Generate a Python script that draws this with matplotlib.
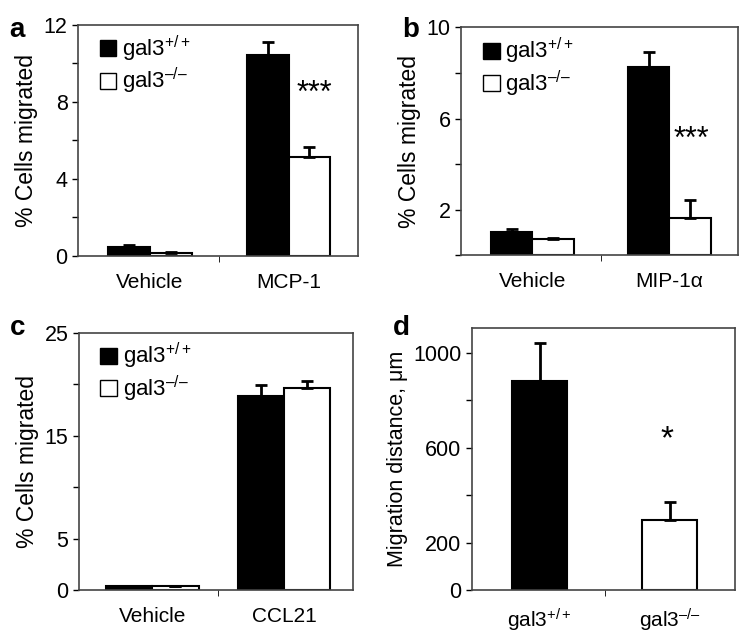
import numpy as np
import matplotlib.pyplot as plt
from matplotlib.patches import Patch

plt.rcParams['font.family'] = ['Liberation Sans', 'DejaVu Sans']
plt.rcParams['mathtext.fontset'] = 'custom'
plt.rcParams['mathtext.rm'] = 'Liberation Sans'
plt.rcParams['mathtext.it'] = 'Liberation Sans'

lab_wt = r"gal3$^{+/+}$"
lab_ko = "gal3$^{\u2013/\u2013}$"

# panel a
a_groups = ["Vehicle", "MCP-1"]
a_wt = [0.45, 10.45]
a_wt_err = [0.09, 0.65]
a_ko = [0.17, 5.13]
a_ko_err = [0.05, 0.55]

# panel b
b_groups = ["Vehicle", "MIP-1\u03b1"]
b_wt = [1.03, 8.26]
b_wt_err = [0.11, 0.64]
b_ko = [0.72, 1.62]
b_ko_err = [0.03, 0.81]

# panel c
c_groups = ["Vehicle", "CCL21"]
c_wt = [0.39, 18.9]
c_wt_err = [0.0, 1.0]
c_ko = [0.39, 19.65]
c_ko_err = [0.0, 0.65]

# panel d
d_groups = [lab_wt, lab_ko]
d_vals = [880, 296]
d_err = [162, 77]

fig = plt.figure(figsize=(7.5, 6.38), dpi=100)
fs = 15
ekw = dict(ecolor='black', elinewidth=2, capsize=4, capthick=2)


def style(ax):
    for s in ax.spines.values():
        s.set_color('#444444')
        s.set_linewidth(1.2)
    ax.tick_params(axis='y', direction='out', length=4, labelsize=fs + 0.5, width=1)
    ax.set_xticks([0.5], minor=True)
    ax.tick_params(axis='x', which='minor', length=4, direction='out')
    ax.tick_params(axis='x', which='major', length=0, labelsize=fs, pad=12)


def grouped(ax, groups, wt, wt_err, ko, ko_err, w=0.3):
    x = np.arange(len(groups))
    ax.bar(x - w / 2, wt, w, color='black', edgecolor='black', linewidth=1.5,
           yerr=[np.zeros(len(wt)), wt_err], error_kw=ekw)
    ax.bar(x + w / 2, ko, w, color='white', edgecolor='black', linewidth=1.5,
           yerr=[np.zeros(len(ko)), ko_err], error_kw=ekw)
    ax.set_xticks(x)
    ax.set_xticklabels(groups)
    ax.set_xlim(-0.52, 1.5)
    h = [Patch(facecolor='black', edgecolor='black'),
         Patch(facecolor='white', edgecolor='black')]
    ax.legend(h, [lab_wt, lab_ko], loc='upper left', frameon=False, fontsize=fs + 1,
              handlelength=0.75, handleheight=0.75, handletextpad=0.25,
              labelspacing=0.1, borderaxespad=0.2, bbox_to_anchor=(0.03, 1.02))
    style(ax)


ax = fig.add_axes([0.104, 0.599, 0.373, 0.362])
grouped(ax, a_groups, a_wt, a_wt_err, a_ko, a_ko_err)
ax.set_ylim(0, 12)
ax.set_yticks(np.arange(0, 13, 2))
ax.set_yticklabels(["0", "", "4", "", "8", "", "12"])
ax.set_ylabel("% Cells migrated", fontsize=fs + 1.5)
ax.text(1.19, 8.0, "***", fontsize=fs + 7, ha='center')
fig.text(0.013, 0.942, "a", fontsize=20, fontweight='bold')

ax = fig.add_axes([0.615, 0.600, 0.369, 0.357])
grouped(ax, b_groups, b_wt, b_wt_err, b_ko, b_ko_err)
ax.set_ylim(0, 10)
ax.set_yticks(np.arange(0, 11, 2))
ax.set_yticklabels(["", "2", "", "6", "", "10"])
ax.set_ylabel("% Cells migrated", fontsize=fs + 1.5)
ax.text(1.16, 4.7, "***", fontsize=fs + 7, ha='center')
fig.text(0.536, 0.942, "b", fontsize=20, fontweight='bold')

ax = fig.add_axes([0.105, 0.075, 0.365, 0.403])
grouped(ax, c_groups, c_wt, c_wt_err, c_ko, c_ko_err, w=0.35)
ax.set_xlim(-0.56, 1.52)
ax.set_ylim(0, 25)
ax.set_yticks(np.arange(0, 26, 5))
ax.set_yticklabels(["0", "5", "", "15", "", "25"])
ax.set_ylabel("% Cells migrated", fontsize=fs + 1.5)
fig.text(0.013, 0.475, "c", fontsize=20, fontweight='bold')

ax = fig.add_axes([0.629, 0.075, 0.351, 0.411])
x = np.arange(len(d_groups))
ax.bar(x, d_vals, 0.42, color=['black', 'white'], edgecolor='black', linewidth=1.5,
       yerr=[np.zeros(2), d_err], error_kw=ekw)
ax.set_xticks(x)
ax.set_xticklabels(d_groups)
ax.set_xlim(-0.52, 1.5)
ax.set_ylim(0, 1105)
ax.set_yticks(np.arange(0, 1001, 200))
ax.set_yticklabels(["0", "200", "", "600", "", "1000"])
ax.set_ylabel("Migration distance, \u03bcm", fontsize=fs + 0.5)
style(ax)
ax.text(0.98, 600, "*", fontsize=fs + 9, ha='center')
fig.text(0.524, 0.475, "d", fontsize=20, fontweight='bold')

fig.savefig("out.png", dpi=100)
